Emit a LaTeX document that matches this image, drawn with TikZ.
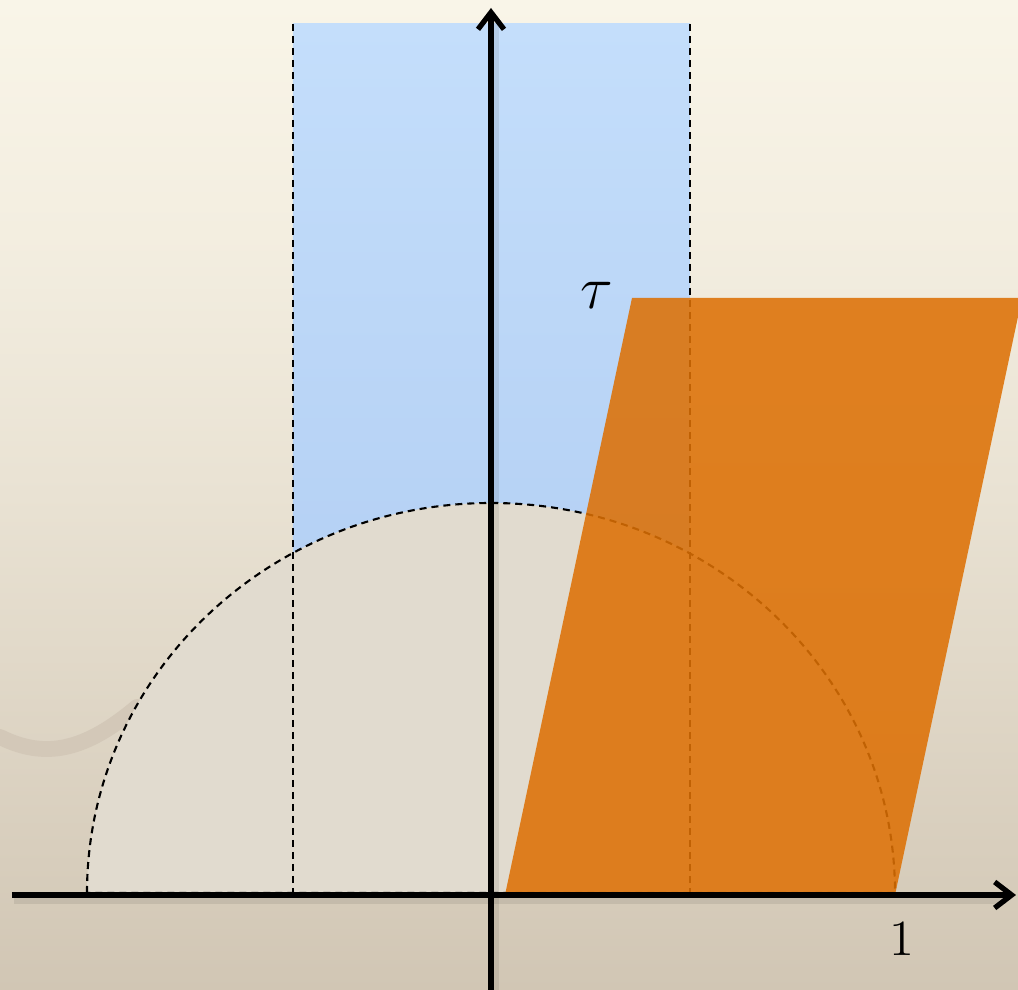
\documentclass[tikz,border=0pt]{standalone}
\usepackage{amsmath,amssymb}
\usetikzlibrary{arrows.meta}

\definecolor{bgtop}{RGB}{249,245,232}
\definecolor{bgmid}{RGB}{233,226,211}
\definecolor{bgbot}{RGB}{209,198,180}
\definecolor{diskfill}{RGB}{225,219,207}
\definecolor{striptop}{RGB}{196,222,251}
\definecolor{stripbot}{RGB}{172,201,240}
\definecolor{paraorange}{RGB}{221,112,4}
\definecolor{wavecol}{RGB}{211,200,184}

\begin{document}
\begin{tikzpicture}[
    x=1cm,y=1cm,
    axis/.style={line width=1.5pt,line cap=butt,-{Straight Barb[length=1.7mm,width=2.6mm]}},
    axisshadow/.style={line width=3pt,black,opacity=0.08},
    boundary/.style={line width=0.6pt,dash pattern=on 0.7mm off 0.5mm},
    strip/.style={top color=striptop,bottom color=stripbot},
    disk/.style={fill=diskfill},
    fundom/.style={fill=paraorange,fill opacity=0.87},
    plabel/.style={font=\Large,inner sep=1pt}
]
% background
\useasboundingbox (-4.91,-0.95) rectangle (5.27,8.95);
\shade[top color=bgtop,bottom color=bgmid,middle color=bgtop!60!bgmid]
  (-4.91,4.0) rectangle (5.27,8.95);
\shade[top color=bgmid,bottom color=bgbot] (-4.91,-0.95) rectangle (5.27,4.0);
\draw[wavecol,line width=4.5pt,line cap=round]
  (-4.91,1.58) .. controls (-4.45,1.35) and (-4.05,1.45) .. (-3.54,1.88);

% strip |Re| <= 1/2
\coordinate (sl) at (-1.98,0);
\coordinate (sr) at (1.99,0);
\coordinate (tl) at (-1.98,8.71);
\coordinate (tr) at (1.99,8.71);
\shade[strip] (sl) rectangle (tr);

% unit half disk
\coordinate (dl) at (-4.04,0.02);
\coordinate (dr) at (4.04,0.02);
\fill[disk] (dl) arc[start angle=180,end angle=0,x radius=4.04,y radius=3.90] -- cycle;
\draw[boundary] (dl) arc[start angle=180,end angle=0,x radius=4.04,y radius=3.90] -- cycle;
\draw[boundary] (tl) -- (sl);
\draw[boundary] (tr) -- (sr);

% fundamental parallelogram 0, 1, 1+tau, tau
\coordinate (p0) at (0.14,0);
\coordinate (p1) at (4.04,0);
\coordinate (pt) at (1.41,5.97);
\coordinate (p1t) at (5.31,5.97);
\fill[fundom] (p0) -- (p1) -- (p1t) -- (pt) -- cycle;

% axes
\coordinate (xs) at (-4.79,0);
\coordinate (xe) at (5.25,0);
\coordinate (ys) at (0,-0.95);
\coordinate (ye) at (0,8.87);
\draw[axisshadow] ([shift={(0.02,-0.04)}]xs) -- ([shift={(-0.1,-0.04)}]xe);
\draw[axisshadow] ([shift={(0.03,-0.02)}]ys) -- ([shift={(0.03,-0.12)}]ye);
\draw[axis] (xs) -- (xe);
\draw[axis] (ys) -- (ye);

\node[plabel,font=\LARGE,anchor=south east] (tau) at ([xshift=-0.15cm,yshift=-0.15cm]pt) {$\tau$};
\node[plabel,anchor=north] (one) at ([xshift=0.07cm,yshift=-0.24cm]p1) {$1$};
\end{tikzpicture}
\end{document}
